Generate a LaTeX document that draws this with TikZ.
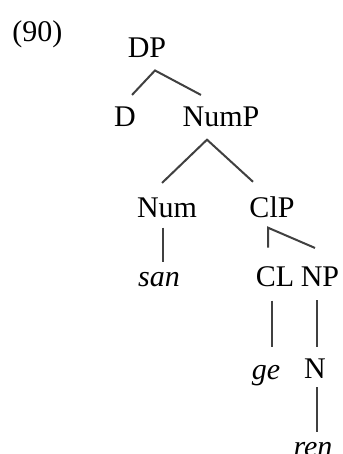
\documentclass[tikz,border=0pt]{standalone}
\usepackage{fontspec}
\setmainfont{Liberation Serif}
\usetikzlibrary{calc}
\colorlet{branchc}{black!75}
\begin{document}
\begin{tikzpicture}[x=0.5pt,y=-0.5pt,font=\fontsize{15}{18}\selectfont,cat/.style={inner sep=0pt,anchor=base},word/.style={cat,font=\fontsize{15}{18}\selectfont\itshape},br/.style={line width=1pt,draw=branchc}]
\useasboundingbox (0,0) rectangle (342,454);
\node[cat,anchor=base west] (ex) at (12,42) {(90)};
\node[cat] (dp) at (147,58) {DP};
\node[cat] (d) at (125,127) {D};
\node[cat] (nump) at (221,127) {NumP};
\node[cat] (num) at (167,217) {Num};
\node[cat] (clp) at (272,217) {ClP};
\node[word] (san) at (159,286) {san};
\node[cat] (cl) at (275,286) {CL};
\node[cat] (np) at (320,286) {NP};
\node[word] (ge) at (266,379) {ge};
\node[cat] (n) at (315,378) {N};
\node[word] (ren) at (313,456) {ren};
% branches
\draw[br] ($(d.north)+(7,-12)$)--($(dp.south)+(8,12)$)--($(nump.north)+(-20,-12)$);
\draw[br] ($(num.north)+(-5,-14)$)--($(nump.south)+(-14,12)$)--($(clp.north)+(-19,-14)$);
\draw[br] ($(num.south)+(-4,10)$)--($(san.north)+(4,-9)$);
\draw[br] ($(cl.north)+(-7,-18)$)--($(clp.south)+(-4,10)$)--($(np.north)+(-5,-18)$);
\draw[br] ($(cl.south)+(-3,14)$)--($(ge.north)+(6,-17)$);
\draw[br] ($(np.south)+(-3,14)$)--($(n.north)+(2,-11)$);
\draw[br] ($(n.south)+(2,9)$)--($(ren.north)+(4,-9)$);
\end{tikzpicture}
\end{document}
